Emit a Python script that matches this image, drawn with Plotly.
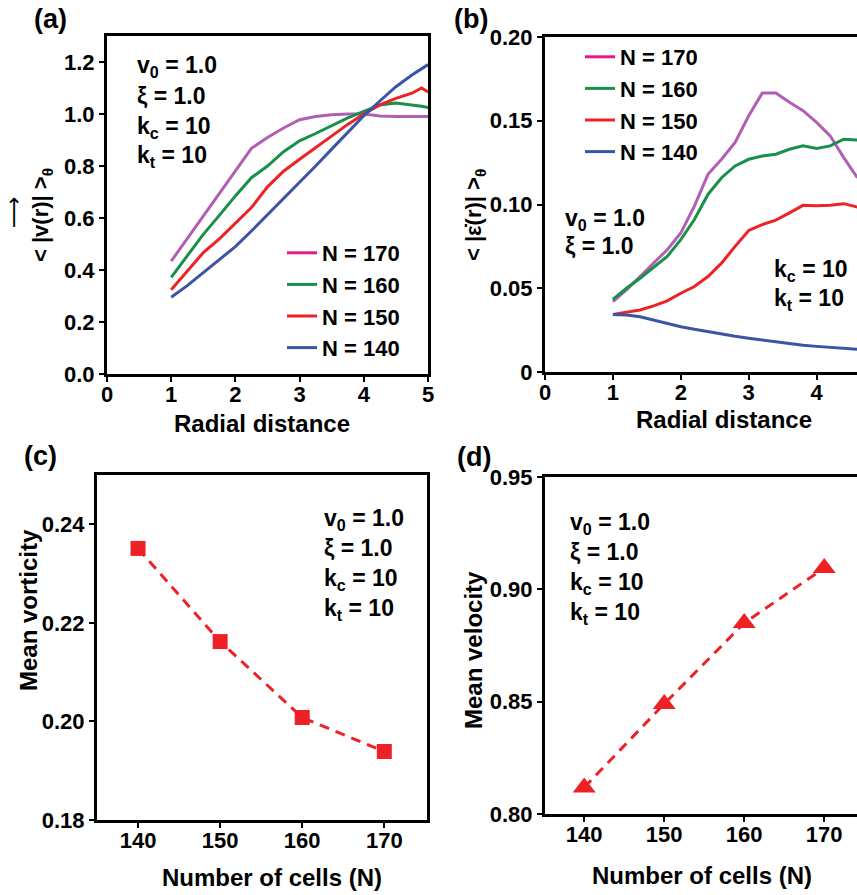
import plotly.graph_objects as go

W, H = 857, 895

# ---------------- data ----------------
# (a) <|v(r)|>_theta vs radial distance
r_a = [1.0, 1.25, 1.5, 1.75, 2.0, 2.25, 2.5, 2.75, 3.0, 3.25, 3.5, 3.75, 4.0, 4.25, 4.5, 4.75, 4.9, 5.0]
v_170 = [0.434, 0.52, 0.607, 0.694, 0.781, 0.868, 0.91, 0.946, 0.978, 0.99, 0.997, 1.0, 1.0, 0.992, 0.99, 0.99, 0.99, 0.99]
v_160 = [0.372, 0.455, 0.537, 0.61, 0.685, 0.755, 0.80, 0.855, 0.897, 0.925, 0.955, 0.985, 1.01, 1.035, 1.042, 1.035, 1.03, 1.025]
v_150 = [0.324, 0.395, 0.467, 0.52, 0.58, 0.64, 0.72, 0.78, 0.826, 0.87, 0.915, 0.96, 1.0, 1.035, 1.06, 1.08, 1.10, 1.085]
v_140 = [0.295, 0.34, 0.39, 0.44, 0.49, 0.55, 0.612, 0.675, 0.739, 0.80, 0.865, 0.93, 0.993, 1.05, 1.105, 1.15, 1.175, 1.19]

# (b) <|eps_dot(r)|>_theta vs radial distance
r_b = [1.0, 1.2, 1.4, 1.6, 1.8, 2.0, 2.2, 2.4, 2.6, 2.8, 3.0, 3.2, 3.4, 3.6, 3.8, 4.0, 4.2, 4.4, 4.6]
e_170 = [0.042, 0.049, 0.057, 0.065, 0.073, 0.083, 0.099, 0.118, 0.127, 0.137, 0.153, 0.1665, 0.1665, 0.161, 0.156, 0.149, 0.141, 0.128, 0.116]
e_160 = [0.0434, 0.050, 0.056, 0.0625, 0.069, 0.079, 0.091, 0.106, 0.116, 0.123, 0.127, 0.129, 0.130, 0.133, 0.135, 0.1335, 0.135, 0.139, 0.1385]
e_150 = [0.0344, 0.0355, 0.037, 0.0395, 0.0425, 0.047, 0.051, 0.057, 0.065, 0.075, 0.0845, 0.088, 0.0907, 0.095, 0.0995, 0.0993, 0.0995, 0.1005, 0.0985]
e_140 = [0.0344, 0.034, 0.033, 0.031, 0.029, 0.027, 0.0255, 0.024, 0.0226, 0.0213, 0.0201, 0.019, 0.018, 0.017, 0.016, 0.0153, 0.0146, 0.014, 0.0135]

# (c), (d) vs number of cells
n_cells = [140, 150, 160, 170]
mean_vorticity = [0.2351, 0.2162, 0.2008, 0.1939]
mean_velocity = [0.8118, 0.849, 0.885, 0.9095]

series_labels = ["N = 170", "N = 160", "N = 150", "N = 140"]

# ---------------- style ----------------
FONT = "Liberation Sans, Arial, sans-serif"
MAUVE = "#B35EB5"
PINK = "#E6198C"
GREEN = "#18904A"
RED = "#EE2226"
BLUE = "#3A55A5"
LW = 3


def px_x(p):
    return p / W


def px_y(p):
    return 1 - p / H


fig = go.Figure()

# (a)
for y, col, name, rank, show in [(v_170, MAUVE, series_labels[0], 1, False),
                                  (v_160, GREEN, series_labels[1], 2, True),
                                  (v_150, RED, series_labels[2], 3, True),
                                  (v_140, BLUE, series_labels[3], 4, True)]:
    fig.add_trace(go.Scatter(x=r_a, y=y, mode="lines", line=dict(color=col, width=LW),
                             name=name, showlegend=show, legendrank=rank,
                             legend="legend", xaxis="x", yaxis="y"))
fig.add_trace(go.Scatter(x=[None], y=[None], mode="lines", line=dict(color=PINK, width=LW),
                         name=series_labels[0], legendrank=1, legend="legend",
                         xaxis="x", yaxis="y"))

# (b)
for y, col, name, rank, show in [(e_170, MAUVE, series_labels[0], 1, False),
                                  (e_160, GREEN, series_labels[1], 2, True),
                                  (e_150, RED, series_labels[2], 3, True),
                                  (e_140, BLUE, series_labels[3], 4, True)]:
    fig.add_trace(go.Scatter(x=r_b, y=y, mode="lines", line=dict(color=col, width=LW),
                             name=name, showlegend=show, legendrank=rank,
                             legend="legend2", xaxis="x2", yaxis="y2"))
fig.add_trace(go.Scatter(x=[None], y=[None], mode="lines", line=dict(color=PINK, width=LW),
                         name=series_labels[0], legendrank=1, legend="legend2",
                         xaxis="x2", yaxis="y2"))

# (c)
fig.add_trace(go.Scatter(x=n_cells, y=mean_vorticity, mode="lines+markers",
                         line=dict(color=RED, width=LW, dash="10px,7px"),
                         marker=dict(symbol="square", size=15, color=RED),
                         showlegend=False, xaxis="x3", yaxis="y3"))
# (d)
fig.add_trace(go.Scatter(x=n_cells, y=mean_velocity, mode="lines+markers",
                         line=dict(color=RED, width=LW, dash="10px,7px"),
                         marker=dict(symbol="triangle-up", size=20, color=RED),
                         showlegend=False, xaxis="x4", yaxis="y4"))

tickfont = dict(family=FONT, size=22, color="black", weight="bold")
axis_common = dict(showgrid=False, zeroline=False, showline=True, linecolor="black",
                   linewidth=LW, ticks="outside", ticklen=5, tickwidth=2,
                   tickcolor="black", tickfont=tickfont, automargin=False)
xaxis_common = dict(axis_common, ticklabelstandoff=-6)
legfont = dict(family=FONT, size=22, color="black", weight="bold")

fig.update_layout(
    width=W, height=H,
    margin=dict(l=0, r=0, t=0, b=0, pad=0, autoexpand=False),
    paper_bgcolor="white", plot_bgcolor="white",
    font=dict(family=FONT, color="black"),
    xaxis=dict(xaxis_common, domain=[px_x(107), px_x(428)], range=[0, 5],
               tickvals=[0, 1, 2, 3, 4, 5], mirror=True, anchor="y"),
    yaxis=dict(axis_common, domain=[px_y(374), px_y(36)], range=[0, 1.3],
               tickvals=[0, 0.2, 0.4, 0.6, 0.8, 1.0, 1.2], tickformat=".1f",
               mirror=True, anchor="x"),
    xaxis2=dict(xaxis_common, domain=[px_x(545), 1.0], range=[0, 4.595],
                tickvals=[0, 1, 2, 3, 4], mirror=True, anchor="y2"),
    yaxis2=dict(axis_common, domain=[px_y(372), px_y(37)], range=[0, 0.2],
                tickvals=[0, 0.05, 0.10, 0.15, 0.20],
                ticktext=["0", "0.05", "0.10", "0.15", "0.20"],
                mirror=False, anchor="x2"),
    xaxis3=dict(xaxis_common, domain=[px_x(97), px_x(427)], range=[135, 175.2],
                tickvals=n_cells, mirror=True, anchor="y3"),
    yaxis3=dict(axis_common, domain=[px_y(820), px_y(475)], range=[0.18, 0.25],
                tickvals=[0.18, 0.20, 0.22, 0.24], tickformat=".2f",
                mirror=True, anchor="x3"),
    xaxis4=dict(xaxis_common, domain=[px_x(545), 1.0], range=[135.1, 174.1],
                tickvals=n_cells, mirror=True, anchor="y4"),
    yaxis4=dict(axis_common, domain=[px_y(814), px_y(477)], range=[0.80, 0.95],
                tickvals=[0.80, 0.85, 0.90, 0.95], tickformat=".2f",
                mirror=False, anchor="x4"),
    legend=dict(x=px_x(282), y=px_y(232), xanchor="left", yanchor="top",
                bgcolor="rgba(0,0,0,0)", borderwidth=0, tracegroupgap=0, font=legfont),
    legend2=dict(x=px_x(580), y=px_y(36), xanchor="left", yanchor="top",
                 bgcolor="rgba(0,0,0,0)", borderwidth=0, tracegroupgap=0, font=legfont),
)

ann = []


def text(x, y, s, size=23, xanchor="left", angle=0, bold=True, family=FONT):
    ann.append(dict(x=px_x(x), y=px_y(y), xref="paper", yref="paper", text=s,
                    showarrow=False, xanchor=xanchor, yanchor="middle",
                    textangle=angle,
                    font=dict(family=family, size=size, color="black",
                              weight="bold" if bold else "normal")))


# panel labels
for lab, x, y in [("(a)", 32, 19), ("(b)", 452, 19), ("(c)", 22, 456), ("(d)", 455, 457)]:
    text(x, y, lab, size=27)

params4 = ["v<sub>0</sub> = 1.0", "ξ = 1.0", "k<sub>c</sub> = 10", "k<sub>t</sub> = 10"]
# (a) params
for s, y in zip(params4, [67, 96, 127, 157]):
    text(135, y, s)
# (b) params
for s, x, y in [(params4[0], 563, 219), (params4[1], 563, 246),
                (params4[2], 772, 270), (params4[3], 772, 299)]:
    text(x, y, s)
# (c) params
for s, y in zip(params4, [519, 548, 579, 609]):
    text(322, y, s)
# (d) params
for s, y in zip(params4, [523, 552, 583, 613]):
    text(568, y, s)

# axis titles
text(262, 424, "Radial distance", size=24, xanchor="center")
text(724, 420, "Radial distance", size=24, xanchor="center")
text(272, 877, "Number of cells (N)", size=24, xanchor="center")
text(702, 875, "Number of cells (N)", size=24, xanchor="center")
text(42, 215, "< |v(r)| ><sub>θ</sub>", size=22, xanchor="center", angle=-90)
text(14, 212, "⟶", size=22, xanchor="center", angle=-90, bold=False, family="DejaVu Sans")
text(475, 215, "< |ε\u0307(r)| ><sub>θ</sub>", size=22, xanchor="center", angle=-90)
text(28, 610, "Mean vorticity", size=24, xanchor="center", angle=-90)
text(473, 650, "Mean velocity", size=24, xanchor="center", angle=-90)

fig.update_layout(annotations=ann)

fig.write_html("out.html", config={"displayModeBar": False},
               post_script="document.body.style.margin='0';document.body.style.overflow='hidden';")
